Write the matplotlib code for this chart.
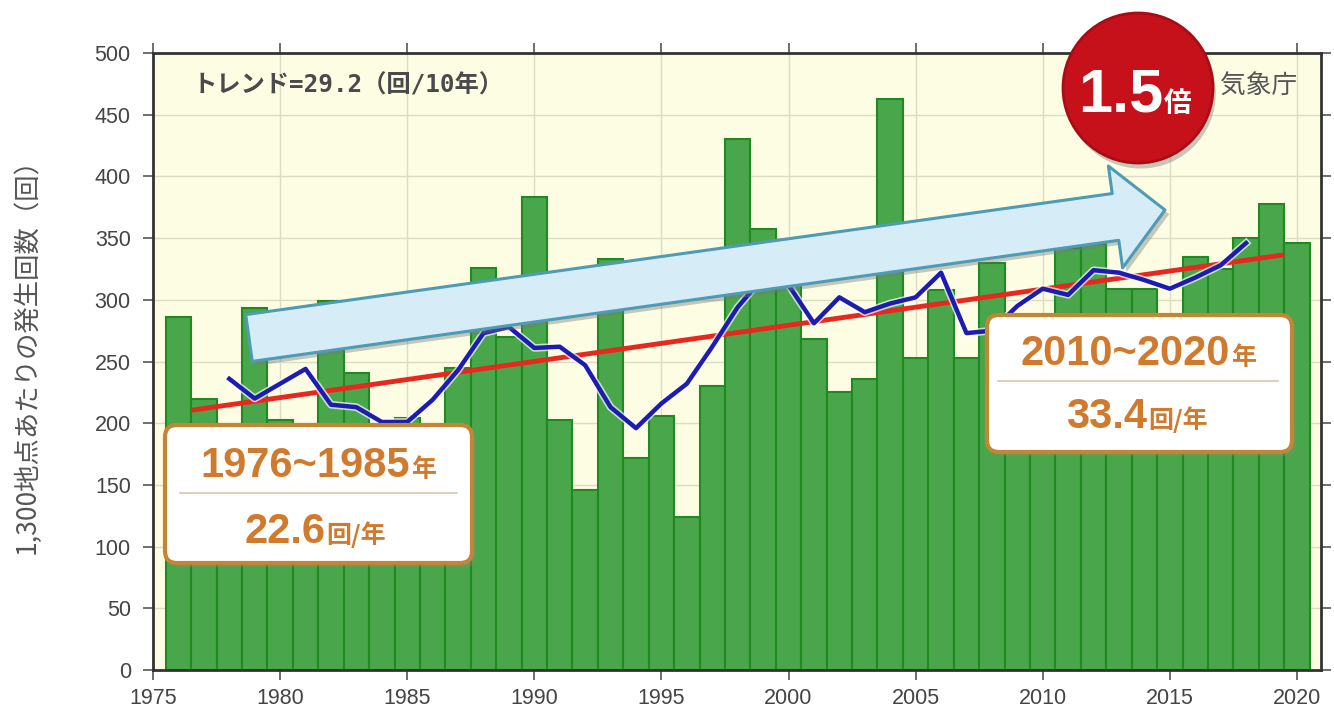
import matplotlib
matplotlib.use("Agg")
import matplotlib.pyplot as plt
import matplotlib.patheffects as pe
from matplotlib.patches import FancyBboxPatch, FancyArrowPatch, Circle
from matplotlib.lines import Line2D

plt.rcParams['font.family'] = ['Liberation Sans', 'Noto Sans CJK JP', 'DejaVu Sans']

# annual count of heavy-rain events per 1,300 stations
years = list(range(1976, 2021))
counts = [286, 220, 190, 293, 203, 175, 299, 241, 150, 204,
          166, 245, 326, 270, 383, 203, 146, 333, 172, 206,
          124, 230, 430, 357, 320, 268, 225, 236, 463, 253,
          308, 253, 330, 240, 280, 342, 345, 309, 309, 270,
          335, 325, 350, 378, 346]

# 5-year running mean
mean_years = list(range(1978, 2019))
mean_values = [236, 220, 232, 244, 215, 213, 201, 201, 219, 243,
               273, 278, 261, 262, 247, 213, 196, 216, 232, 262,
               294, 318, 312, 281, 302, 290, 297, 302, 322, 273,
               275, 295, 309, 304, 324, 322, 316, 309, 318, 328, 346]

# long-term trend line (29.2 per 10 years)
trend_years = [1976.5, 2019.5]
trend_values = [210.5, 336.5]

y_ticks = list(range(0, 501, 50))
x_ticks = list(range(1975, 2021, 5))

ORANGE = '#d07a2e'
JP = ['Noto Sans CJK JP', 'DejaVu Sans']
NUM = ['Liberation Sans', 'Noto Sans CJK JP']
MONO = ['DejaVu Sans Mono', 'Noto Sans CJK JP']

fig = plt.figure(figsize=(13.34, 7.2), dpi=100)
ax = fig.add_axes([0.1147, 0.0694, 0.8756, 0.857])
ax.set_facecolor('#fdfde3')

ax.bar(years, counts, width=1.0, color='#4aa64a', edgecolor='#1f8a1f',
       linewidth=1.5, zorder=2)
ax.plot(trend_years, trend_values, color='#e8281e', lw=3.5, zorder=3,
        solid_capstyle='butt')
ax.plot(mean_years, mean_values, color='#1c1cb0', lw=3.2, zorder=4,
        path_effects=[pe.Stroke(linewidth=5.5, foreground='white', alpha=0.7),
                      pe.Normal()])

ax.set_xlim(1975, 2020.95)
ax.set_ylim(0, 500)
ax.set_xticks(x_ticks)
ax.set_yticks(y_ticks)
ax.set_axisbelow(True)
ax.grid(True, color='#dcdcc4', lw=1)
ax.tick_params(direction='out', length=7, width=1.2, color='#555555',
               labelsize=15.5, labelcolor='#444444', top=True, right=True,
               labeltop=False, labelright=False)
ax.tick_params(axis='y', pad=9)
ax.tick_params(axis='x', pad=6)
for s in ax.spines.values():
    s.set_color('#333333')
    s.set_linewidth(2)

ax.text(0.034, 0.948, 'トレンド=29.2（回/10年）', transform=ax.transAxes,
        va='center', ha='left', fontsize=17.5, color='#4a4a4a',
        fontweight='bold', family=MONO)
ax.text(0.9135, 0.945, '気象庁', transform=ax.transAxes, va='center',
        ha='left', fontsize=18.5, color='#555555', family=JP)


# overlays are laid out in figure pixels (origin top-left)
def px(x, y):
    return x / 100, (720 - y) / 100


T = fig.dpi_scale_trans

fig.text(*px(27, 350), '1,300地点あたりの発生回数（回）', transform=T,
         rotation=90, ha='center', va='center', fontsize=19,
         color='#555555', family=JP)

# big arrow
arrow = FancyArrowPatch(px(249, 338), px(1165, 210), transform=T,
                        arrowstyle='simple,head_length=36,head_width=74,tail_width=34',
                        mutation_scale=1, shrinkA=0, shrinkB=0,
                        facecolor='#d6edf8', edgecolor='#4e9bb5', lw=2.2,
                        zorder=5,
                        path_effects=[pe.withSimplePatchShadow(offset=(3, -3),
                                                               shadow_rgbFace='#777777',
                                                               alpha=0.4)])
fig.add_artist(arrow)


def summary_box(x0, y0, x1, y1, div_y, div_x0, div_x1, line1, line2):
    (bx, by) = px(x0, y1)
    w, h = (x1 - x0) / 100, (y1 - y0) / 100
    box = FancyBboxPatch((bx, by), w, h, transform=T,
                         boxstyle='round,pad=0,rounding_size=0.12',
                         facecolor='white', edgecolor='#c58633', lw=3,
                         zorder=6,
                         path_effects=[pe.withSimplePatchShadow(offset=(3, -3),
                                                                shadow_rgbFace='#888888',
                                                                alpha=0.35)])
    fig.add_artist(box)
    fig.add_artist(Line2D([div_x0 / 100, div_x1 / 100],
                          [(720 - div_y) / 100] * 2, transform=T,
                          color='#dcc6a8', lw=1.2, zorder=7))
    for (big, small, xs, base) in (line1, line2):
        fig.text(*px(xs, base), big, transform=T, ha='right', va='baseline',
                 fontsize=30, fontweight='bold', color=ORANGE, family=NUM,
                 zorder=8)
        fig.text(*px(xs + 1, base), small, transform=T, ha='left',
                 va='baseline', fontsize=18, fontweight='bold', color=ORANGE,
                 family=JP, zorder=8)


summary_box(165, 425, 472, 563, 493, 180, 457,
            ('1976~1985', '年', 410, 477),
            ('22.6', '回/年', 325, 543))
summary_box(987, 315, 1292, 452, 381, 998, 1278,
            ('2010~2020', '年', 1230, 365),
            ('33.4', '回/年', 1147, 428))

# red badge
badge = Circle(px(1138, 88), 0.75, transform=T, facecolor='#c6111b',
               edgecolor='#a80d15', lw=2, zorder=9,
               path_effects=[pe.withSimplePatchShadow(offset=(2, -4),
                                                      shadow_rgbFace='#777777',
                                                      alpha=0.4)])
fig.add_artist(badge)
fig.text(*px(1163, 112), '1.5', transform=T, ha='right', va='baseline',
         fontsize=44, fontweight='bold', color='white', family=NUM, zorder=10)
fig.text(*px(1164, 112), '倍', transform=T, ha='left', va='baseline',
         fontsize=20, fontweight='bold', color='white', family=JP, zorder=10)

fig.savefig('out.png', dpi=100, facecolor='white')
